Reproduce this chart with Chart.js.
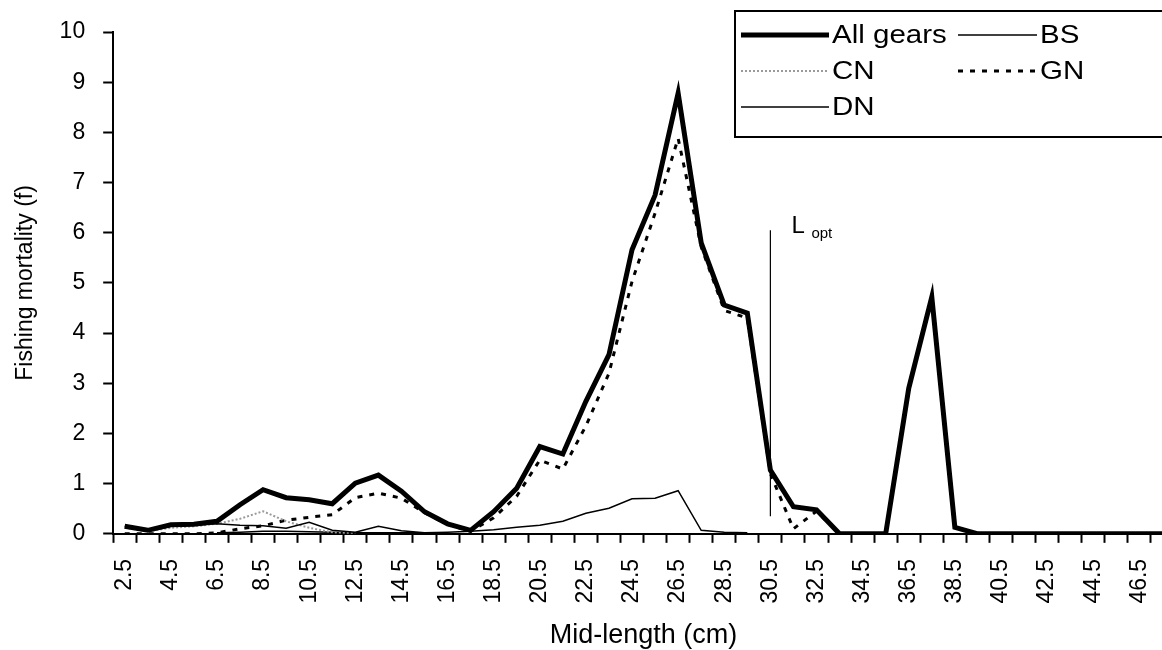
<!DOCTYPE html>
<html>
<head>
<meta charset="utf-8">
<script src="https://cdn.jsdelivr.net/npm/chart.js@4.4.1/dist/chart.umd.min.js"></script>
<style>
  html, body { margin: 0; padding: 0; overflow: hidden; background: #fff; }
  canvas { display: block; }
</style>
</head>
<body>
<canvas id="fmort" width="1206" height="652"></canvas>
<script>
// mid-length classes (cm)
var lengthLabels = [
  '2.5','3.5','4.5','5.5','6.5','7.5','8.5','9.5','10.5','11.5',
  '12.5','13.5','14.5','15.5','16.5','17.5','18.5','19.5','20.5','21.5',
  '22.5','23.5','24.5','25.5','26.5','27.5','28.5','29.5','30.5','31.5',
  '32.5','33.5','34.5','35.5','36.5','37.5','38.5','39.5','40.5','41.5',
  '42.5','43.5','44.5','45.5','46.5','47.5'
];

var allGears = [
  0.15, 0.07, 0.18, 0.19, 0.25, 0.58, 0.88, 0.72, 0.68, 0.60,
  1.01, 1.17, 0.85, 0.44, 0.20, 0.07, 0.44, 0.91, 1.74, 1.59,
  2.64, 3.57, 5.66, 6.75, 8.78, 5.80, 4.56, 4.40, 1.27, 0.54,
  0.48, 0, 0, 0, 2.90, 4.72, 0.13, 0, 0, 0,
  0, 0, 0, 0, 0, 0
];

var bsValues = [
  0.15, 0.05, 0.15, 0.17, 0.20, 0.17, 0.16, 0.11, 0.23, 0.07,
  0.03, 0.15, 0.06, 0.02, null, null, null, null, null, null,
  null, null, null, null, null, null, null, null, null, null,
  null, null, null, null, null, null, null, null, null, null,
  null, null, null, null, null, null
];

var cnValues = [
  0.12, 0.05, 0.12, 0.15, 0.20, 0.30, 0.45, 0.25, 0.12, 0.03,
  0.01, null, null, null, null, null, null, null, null, null,
  null, null, null, null, null, null, null, null, null, null,
  null, null, null, null, null, null, null, null, null, null,
  null, null, null, null, null, null
];

var gnValues = [
  0, 0, 0, 0, 0.02, 0.10, 0.16, 0.27, 0.33, 0.38,
  0.72, 0.81, 0.71, 0.42, 0.19, 0.05, 0.32, 0.75, 1.47, 1.29,
  2.15, 3.20, 5.03, 6.39, 7.88, 5.72, 4.45, 4.30, 1.20, 0.10,
  0.45, 0, 0, 0, 2.90, 4.72, 0.13, 0, 0, 0,
  0, 0, 0, 0, 0, 0
];

var dnValues = [
  null, null, null, null, 0.02, 0.03, 0.05, 0.05, 0.04, 0.03,
  0.02, 0.02, 0.02, 0.02, 0.03, 0.05, 0.08, 0.13, 0.17, 0.25,
  0.41, 0.51, 0.70, 0.71, 0.86, 0.07, 0.03, 0.02, null, null,
  null, null, null, null, null, null, null, null, null, null,
  null, null, null, null, null, null
];

// L opt marker
var lOptClass = '30.5';
var lOptBottom = 0.35;
var lOptTop = 6.05;

var FONT = "'Liberation Sans', Arial, sans-serif";

// legend drawn like the original box: two columns, three rows
var boxLegend = {
  id: 'boxLegend',
  afterDraw: function (chart) {
    var ctx = chart.ctx;
    var ds = chart.data.datasets;
    var left = 735, top = 11, bottom = 137;
    ctx.save();
    ctx.fillStyle = '#fff';
    ctx.fillRect(left, top, 600, bottom - top);
    ctx.strokeStyle = '#000';
    ctx.lineWidth = 2;
    ctx.strokeRect(left, top, 600, bottom - top);

    var cols = [[741, 829], [958, 1037]];
    var rows = [35, 71, 107];
    for (var i = 0; i < 5; i++) {
      var d = ds[i];
      var c = cols[i % 2];
      var y = rows[Math.floor(i / 2)];
      ctx.beginPath();
      ctx.setLineDash(d.borderDash || []);
      ctx.strokeStyle = d.borderColor;
      ctx.lineWidth = d.borderWidth;
      ctx.moveTo(c[0], y);
      ctx.lineTo(c[1], y);
      ctx.stroke();
      ctx.setLineDash([]);
      ctx.save();
      ctx.translate(c[1] + 3, y);
      ctx.scale(1.18, 1);
      ctx.fillStyle = '#000';
      ctx.font = '25px ' + FONT;
      ctx.textBaseline = 'middle';
      ctx.fillText(d.label, 0, 1);
      ctx.restore();
    }

    // L opt label
    var xs = chart.scales.x, ys = chart.scales.y;
    var lx = xs.getPixelForValue(lengthLabels.indexOf(lOptClass));
    var ly = ys.getPixelForValue(lOptTop);
    ctx.fillStyle = '#000';
    ctx.textBaseline = 'alphabetic';
    ctx.font = '24px ' + FONT;
    ctx.fillText('L', lx + 21, ly + 3);
    ctx.font = '15px ' + FONT;
    ctx.fillText('opt', lx + 41, ly + 8);
    ctx.restore();
  }
};

var chart = new Chart(document.getElementById('fmort'), {
  type: 'line',
  data: {
    labels: lengthLabels,
    datasets: [
      { label: 'All gears', data: allGears, borderColor: '#000', borderWidth: 5 },
      { label: 'BS', data: bsValues, borderColor: '#000', borderWidth: 1.5 },
      { label: 'CN', data: cnValues, borderColor: '#9a9a9a', borderWidth: 2, borderDash: [2, 2] },
      { label: 'GN', data: gnValues, borderColor: '#000', borderWidth: 3, borderDash: [5, 7] },
      { label: 'DN', data: dnValues, borderColor: '#000', borderWidth: 1.5 },
      {
        label: 'L opt',
        data: [{x: lOptClass, y: lOptBottom}, {x: lOptClass, y: lOptTop}],
        borderColor: '#000', borderWidth: 1.2
      }
    ]
  },
  options: {
    responsive: false,
    animation: false,
    spanGaps: false,
    elements: {
      line: { tension: 0, fill: false, borderCapStyle: 'butt', borderJoinStyle: 'miter' },
      point: { radius: 0, hoverRadius: 0 }
    },
    layout: { padding: { left: 8, top: 32, right: 1, bottom: 0 } },
    plugins: {
      legend: { display: false },
      tooltip: { enabled: false }
    },
    scales: {
      x: {
        type: 'category',
        offset: true,
        grid: {
          offset: true,
          drawOnChartArea: false,
          drawTicks: true,
          tickLength: 9,
          tickWidth: 2,
          tickColor: '#000'
        },
        border: { color: '#000', width: 2 },
        ticks: {
          autoSkip: false,
          minRotation: 90,
          maxRotation: 90,
          padding: 16,
          color: '#000',
          font: { family: FONT, size: 23 },
          callback: function (v, i) { return i % 2 === 0 ? lengthLabels[i] : ''; }
        },
        title: {
          display: true,
          text: 'Mid-length (cm)',
          color: '#000',
          font: { family: FONT, size: 27 },
          padding: { top: 0, bottom: 0 }
        }
      },
      y: {
        min: 0,
        max: 10,
        grid: {
          drawOnChartArea: false,
          drawTicks: true,
          tickLength: 10,
          tickWidth: 2,
          tickColor: '#000'
        },
        border: { color: '#000', width: 2 },
        ticks: {
          stepSize: 1,
          padding: 18,
          color: '#000',
          font: { family: FONT, size: 23 }
        },
        title: {
          display: true,
          text: 'Fishing mortality (f)',
          color: '#000',
          font: { family: FONT, size: 23 },
          padding: { top: 4, bottom: 2 }
        }
      }
    }
  },
  plugins: [boxLegend]
});
</script>
</body>
</html>
